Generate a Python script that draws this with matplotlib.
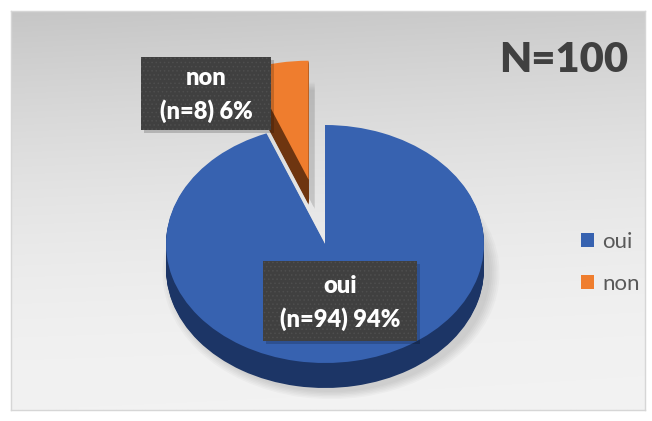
import numpy as np
import matplotlib
matplotlib.use("Agg")
import matplotlib.pyplot as plt
from matplotlib.patches import Rectangle, Patch

# ---- data ----
categories = ["oui", "non"]
counts = [94, 8]
percents = [94, 6]
title_text = "N=100"

plt.rcParams["font.family"] = ["Lato", "DejaVu Sans"]
plt.rcParams["hatch.linewidth"] = 0.6

W, H = 652, 421
fig = plt.figure(figsize=(W / 100, H / 100), dpi=100)
fig.patch.set_facecolor("white")

def fx(px):
    return px / W

def fy(py):
    return 1 - py / H

# ---- background panel with gradient ----
x0, y0, x1, y1 = 11, 11, 645, 410
bg = fig.add_axes([fx(x0), fy(y1), (x1 - x0) / W, (y1 - y0) / H])
ny, nx = 200, 300
t = np.linspace(0, 1, ny)[:, None]
s = np.linspace(0, 1, nx)[None, :]
v = 198 + 44 * (1 - (1 - t) ** 1.8) + 6 * s * (1 - t)
v = np.clip(v, 0, 245) / 255.0
img = np.dstack([v, v, v])
bg.imshow(img, aspect="auto", extent=(0, 1, 0, 1), origin="upper", interpolation="bilinear")
bg.set_xlim(0, 1)
bg.set_ylim(0, 1)
bg.set_xticks([])
bg.set_yticks([])
for sp in bg.spines.values():
    sp.set_color("#d6d6d6")
    sp.set_linewidth(1)

# ---- pseudo-3D pie ----
cx, cy, rx, ry = 325, 244, 159, 119
depth_px = 25
ax = fig.add_axes([0, 0, 1, 1])
ax.patch.set_alpha(0)

top_colors = ["#3762b0", "#ef7d2e"]
side_colors = ["#1c3566", "#6e3510"]
explode = [0, 0.55]
pie_kw = dict(startangle=90, counterclock=False, explode=explode, radius=1,
              wedgeprops=dict(linewidth=0))

# soft shadow
for k in range(6):
    w, _ = ax.pie(percents, colors=["#000000", "#000000"],
                  center=(6 / rx, -(depth_px + 4) / ry), **pie_kw)
    for wd in w:
        wd.set_alpha(0.025)
        wd.set_zorder(0.5)
        wd.set_radius(1.0 + 0.012 * k)

# side layers (colour a little lighter towards the top rim)
dd = depth_px / ry
nlay = 26
for d in np.linspace(dd, 0, nlay)[:-1]:
    w, _ = ax.pie(percents, colors=side_colors, center=(0, -d), **pie_kw)
    w[0].set_zorder(3)
    w[1].set_zorder(1)

# top faces
top_wedges, _ = ax.pie(percents, colors=top_colors, center=(0, 0), **pie_kw)
top_wedges[0].set_zorder(4)
top_wedges[1].set_zorder(2)

ax.set_aspect("auto")
ax.set_xlim(-cx / rx, (W - cx) / rx)
ax.set_ylim((cy - H) / ry, cy / ry)
ax.axis("off")

# ---- data labels ----
def label_box(xa, ya, xb, yb, line1, line2, y_l1, y_l2):
    sh = Rectangle((fx(xa + 3), fy(yb + 3)), (xb - xa) / W, (yb - ya) / H,
                   transform=fig.transFigure, facecolor="#000000", alpha=0.18,
                   linewidth=0, zorder=5)
    fig.add_artist(sh)
    r = Rectangle((fx(xa), fy(yb)), (xb - xa) / W, (yb - ya) / H,
                  transform=fig.transFigure, facecolor="#404040",
                  edgecolor="#4e4e4e", hatch="....", linewidth=0, zorder=6)
    fig.add_artist(r)
    xm = (xa + xb) / 2
    fig.text(fx(xm), fy(y_l1), line1, ha="center", va="center", color="white",
             fontsize=17, fontweight="heavy", zorder=7)
    fig.text(fx(xm), fy(y_l2), line2, ha="center", va="center", color="white",
             fontsize=17, fontweight="heavy", zorder=7)

lab = [f"(n={c}) {p}%" for c, p in zip(counts, percents)]
label_box(141, 57, 271, 130, categories[1], lab[1], 78, 111)
label_box(263, 261, 417, 341, categories[0], lab[0], 286, 319)

# ---- title ----
fig.text(fx(564), fy(60), title_text, ha="center", va="center",
         fontsize=30, fontweight="heavy", color="#404040")

# ---- legend ----
handles = [Patch(facecolor=c, edgecolor="none") for c in top_colors]
leg = ax.legend(handles, categories, loc="center left",
                bbox_to_anchor=(fx(581), fy(263)), bbox_transform=fig.transFigure,
                frameon=False, fontsize=16, handlelength=0.6, handleheight=0.6,
                handletextpad=0.35, labelspacing=1.0, borderpad=0, borderaxespad=0,
                labelcolor="#595959")
leg.set_zorder(10)

fig.savefig("out.png", dpi=100)
